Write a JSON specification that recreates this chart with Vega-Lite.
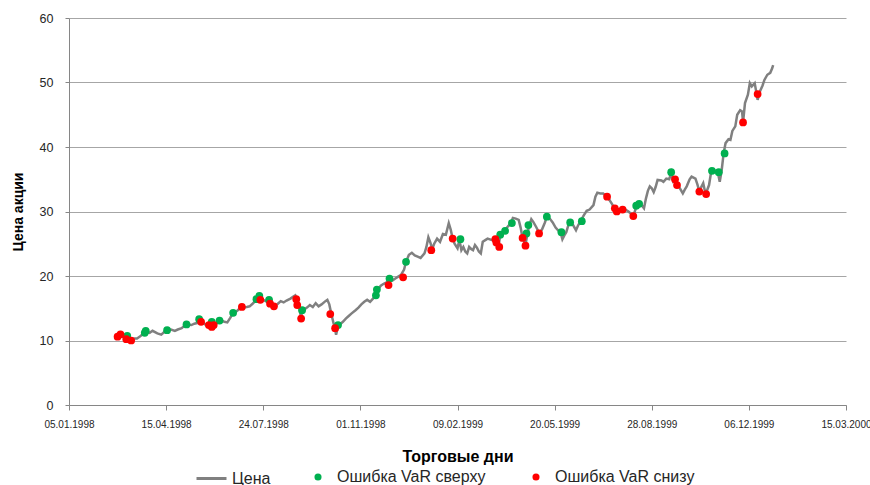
{
  "$schema": "https://vega.github.io/schema/vega-lite/v6.json",
  "width": 777,
  "height": 387,
  "autosize": {"type": "none"},
  "padding": {"left": 69, "top": 18, "right": 24, "bottom": 80},
  "background": "white",
  "config": {
    "view": {"stroke": null},
    "font": "Liberation Sans",
    "axis": {"labelFont": "Liberation Sans", "titleFont": "Liberation Sans"},
    "legend": {"labelFont": "Liberation Sans"}
  },
  "datasets": {
    "price": [
      {"date": "1998-02-22", "price": 10.6}, {"date": "1998-02-25", "price": 10.9}, {"date": "1998-03-01", "price": 10.6},
      {"date": "1998-03-04", "price": 10.3}, {"date": "1998-03-07", "price": 10.2}, {"date": "1998-03-10", "price": 10.1},
      {"date": "1998-03-13", "price": 10.3}, {"date": "1998-03-16", "price": 10.3}, {"date": "1998-03-19", "price": 10.6},
      {"date": "1998-03-22", "price": 11.0}, {"date": "1998-03-25", "price": 11.4}, {"date": "1998-03-29", "price": 11.2},
      {"date": "1998-04-01", "price": 11.5}, {"date": "1998-04-06", "price": 11.1}, {"date": "1998-04-10", "price": 10.9},
      {"date": "1998-04-13", "price": 11.3}, {"date": "1998-04-16", "price": 11.6}, {"date": "1998-04-20", "price": 11.7},
      {"date": "1998-04-24", "price": 11.5}, {"date": "1998-04-27", "price": 11.7}, {"date": "1998-05-01", "price": 11.9},
      {"date": "1998-05-04", "price": 12.3}, {"date": "1998-05-06", "price": 12.5}, {"date": "1998-05-11", "price": 12.4},
      {"date": "1998-05-14", "price": 12.6}, {"date": "1998-05-17", "price": 12.7}, {"date": "1998-05-20", "price": 13.1},
      {"date": "1998-05-23", "price": 12.8}, {"date": "1998-05-26", "price": 12.4}, {"date": "1998-05-29", "price": 12.3},
      {"date": "1998-06-01", "price": 12.3}, {"date": "1998-06-04", "price": 12.4}, {"date": "1998-06-07", "price": 12.8},
      {"date": "1998-06-11", "price": 13.1}, {"date": "1998-06-14", "price": 12.9}, {"date": "1998-06-17", "price": 12.8},
      {"date": "1998-06-20", "price": 13.5}, {"date": "1998-06-23", "price": 14.3}, {"date": "1998-06-27", "price": 14.6},
      {"date": "1998-06-30", "price": 15.0}, {"date": "1998-07-03", "price": 15.1}, {"date": "1998-07-07", "price": 15.2},
      {"date": "1998-07-10", "price": 15.3}, {"date": "1998-07-13", "price": 15.7}, {"date": "1998-07-17", "price": 16.3},
      {"date": "1998-07-20", "price": 16.8}, {"date": "1998-07-22", "price": 16.5}, {"date": "1998-07-25", "price": 16.2},
      {"date": "1998-07-28", "price": 16.0}, {"date": "1998-07-31", "price": 16.2}, {"date": "1998-08-02", "price": 15.8},
      {"date": "1998-08-05", "price": 15.3}, {"date": "1998-08-08", "price": 15.7}, {"date": "1998-08-11", "price": 16.1},
      {"date": "1998-08-14", "price": 15.9}, {"date": "1998-08-17", "price": 16.2}, {"date": "1998-08-21", "price": 16.5},
      {"date": "1998-08-24", "price": 16.8}, {"date": "1998-08-26", "price": 17.0}, {"date": "1998-08-28", "price": 16.2},
      {"date": "1998-08-30", "price": 15.3}, {"date": "1998-09-01", "price": 13.4}, {"date": "1998-09-02", "price": 14.7},
      {"date": "1998-09-04", "price": 14.8}, {"date": "1998-09-07", "price": 15.1}, {"date": "1998-09-10", "price": 15.5},
      {"date": "1998-09-13", "price": 15.2}, {"date": "1998-09-16", "price": 15.8}, {"date": "1998-09-19", "price": 15.3},
      {"date": "1998-09-22", "price": 15.6}, {"date": "1998-09-26", "price": 16.1}, {"date": "1998-09-28", "price": 16.3},
      {"date": "1998-09-30", "price": 15.6}, {"date": "1998-10-02", "price": 14.2}, {"date": "1998-10-04", "price": 12.9},
      {"date": "1998-10-06", "price": 11.7}, {"date": "1998-10-07", "price": 10.9}, {"date": "1998-10-09", "price": 12.2},
      {"date": "1998-10-11", "price": 12.5}, {"date": "1998-10-14", "price": 12.9}, {"date": "1998-10-17", "price": 13.4},
      {"date": "1998-10-20", "price": 13.8}, {"date": "1998-10-23", "price": 14.2}, {"date": "1998-10-27", "price": 14.7},
      {"date": "1998-10-30", "price": 15.1}, {"date": "1998-11-02", "price": 15.6}, {"date": "1998-11-05", "price": 16.0},
      {"date": "1998-11-08", "price": 16.3}, {"date": "1998-11-11", "price": 16.0}, {"date": "1998-11-14", "price": 16.5},
      {"date": "1998-11-17", "price": 17.0}, {"date": "1998-11-19", "price": 17.9}, {"date": "1998-11-22", "price": 18.5},
      {"date": "1998-11-25", "price": 18.8}, {"date": "1998-11-28", "price": 19.0}, {"date": "1998-12-01", "price": 19.5},
      {"date": "1998-12-04", "price": 19.3}, {"date": "1998-12-07", "price": 19.6}, {"date": "1998-12-10", "price": 19.9},
      {"date": "1998-12-13", "price": 20.2}, {"date": "1998-12-16", "price": 21.0}, {"date": "1998-12-18", "price": 22.2},
      {"date": "1998-12-21", "price": 23.3}, {"date": "1998-12-24", "price": 23.6}, {"date": "1998-12-27", "price": 23.2},
      {"date": "1998-12-30", "price": 23.0}, {"date": "1999-01-02", "price": 22.8}, {"date": "1999-01-06", "price": 23.5},
      {"date": "1999-01-08", "price": 24.5}, {"date": "1999-01-10", "price": 26.0}, {"date": "1999-01-12", "price": 25.2},
      {"date": "1999-01-14", "price": 24.2}, {"date": "1999-01-16", "price": 25.0}, {"date": "1999-01-19", "price": 25.8},
      {"date": "1999-01-22", "price": 25.3}, {"date": "1999-01-25", "price": 26.5}, {"date": "1999-01-28", "price": 26.4},
      {"date": "1999-01-31", "price": 28.2}, {"date": "1999-02-02", "price": 27.2}, {"date": "1999-02-04", "price": 25.8},
      {"date": "1999-02-06", "price": 25.0}, {"date": "1999-02-09", "price": 24.3}, {"date": "1999-02-11", "price": 25.6},
      {"date": "1999-02-13", "price": 24.0}, {"date": "1999-02-15", "price": 24.5}, {"date": "1999-02-17", "price": 23.8},
      {"date": "1999-02-19", "price": 23.5}, {"date": "1999-02-21", "price": 24.5}, {"date": "1999-02-23", "price": 24.2},
      {"date": "1999-02-25", "price": 24.0}, {"date": "1999-02-27", "price": 24.8}, {"date": "1999-03-01", "price": 24.4},
      {"date": "1999-03-03", "price": 23.8}, {"date": "1999-03-05", "price": 23.5}, {"date": "1999-03-07", "price": 25.3},
      {"date": "1999-03-10", "price": 25.6}, {"date": "1999-03-12", "price": 25.8}, {"date": "1999-03-16", "price": 25.6},
      {"date": "1999-03-19", "price": 25.8}, {"date": "1999-03-21", "price": 25.3}, {"date": "1999-03-23", "price": 24.6},
      {"date": "1999-03-25", "price": 26.2}, {"date": "1999-03-27", "price": 26.6}, {"date": "1999-03-30", "price": 27.1},
      {"date": "1999-04-02", "price": 27.7}, {"date": "1999-04-05", "price": 28.2}, {"date": "1999-04-07", "price": 29.0},
      {"date": "1999-04-10", "price": 28.9}, {"date": "1999-04-13", "price": 28.7}, {"date": "1999-04-15", "price": 27.5},
      {"date": "1999-04-17", "price": 25.9}, {"date": "1999-04-20", "price": 24.8}, {"date": "1999-04-22", "price": 26.6},
      {"date": "1999-04-24", "price": 27.9}, {"date": "1999-04-26", "price": 28.8}, {"date": "1999-04-28", "price": 28.4},
      {"date": "1999-05-01", "price": 27.6}, {"date": "1999-05-04", "price": 26.7}, {"date": "1999-05-07", "price": 27.2},
      {"date": "1999-05-10", "price": 28.3}, {"date": "1999-05-12", "price": 29.2}, {"date": "1999-05-15", "price": 28.9},
      {"date": "1999-05-18", "price": 28.3}, {"date": "1999-05-21", "price": 27.5}, {"date": "1999-05-24", "price": 27.0},
      {"date": "1999-05-26", "price": 26.8}, {"date": "1999-05-28", "price": 25.7}, {"date": "1999-05-30", "price": 26.3},
      {"date": "1999-06-01", "price": 26.8}, {"date": "1999-06-03", "price": 27.8}, {"date": "1999-06-05", "price": 28.3},
      {"date": "1999-06-08", "price": 27.9}, {"date": "1999-06-11", "price": 27.1}, {"date": "1999-06-13", "price": 27.8},
      {"date": "1999-06-16", "price": 28.6}, {"date": "1999-06-19", "price": 29.4}, {"date": "1999-06-22", "price": 30.1},
      {"date": "1999-06-25", "price": 30.3}, {"date": "1999-06-29", "price": 31.0}, {"date": "1999-07-01", "price": 32.3},
      {"date": "1999-07-03", "price": 32.9}, {"date": "1999-07-06", "price": 32.8}, {"date": "1999-07-09", "price": 32.8},
      {"date": "1999-07-12", "price": 32.4}, {"date": "1999-07-15", "price": 31.9}, {"date": "1999-07-18", "price": 31.2},
      {"date": "1999-07-20", "price": 30.6}, {"date": "1999-07-22", "price": 30.0}, {"date": "1999-07-24", "price": 30.4},
      {"date": "1999-07-27", "price": 30.2}, {"date": "1999-07-29", "price": 30.4}, {"date": "1999-08-01", "price": 30.3},
      {"date": "1999-08-04", "price": 30.0}, {"date": "1999-08-07", "price": 29.6}, {"date": "1999-08-09", "price": 29.3},
      {"date": "1999-08-11", "price": 30.2}, {"date": "1999-08-13", "price": 31.0}, {"date": "1999-08-16", "price": 31.2},
      {"date": "1999-08-18", "price": 30.9}, {"date": "1999-08-20", "price": 30.5}, {"date": "1999-08-22", "price": 32.0},
      {"date": "1999-08-24", "price": 33.2}, {"date": "1999-08-26", "price": 33.9}, {"date": "1999-08-28", "price": 33.6},
      {"date": "1999-08-30", "price": 33.0}, {"date": "1999-09-01", "price": 33.8}, {"date": "1999-09-03", "price": 34.9},
      {"date": "1999-09-07", "price": 34.8}, {"date": "1999-09-09", "price": 34.6}, {"date": "1999-09-12", "price": 35.1},
      {"date": "1999-09-15", "price": 35.0}, {"date": "1999-09-17", "price": 36.0}, {"date": "1999-09-19", "price": 34.7},
      {"date": "1999-09-21", "price": 35.0}, {"date": "1999-09-24", "price": 34.1}, {"date": "1999-09-26", "price": 33.6},
      {"date": "1999-09-29", "price": 32.8}, {"date": "1999-10-01", "price": 33.4}, {"date": "1999-10-03", "price": 33.9},
      {"date": "1999-10-06", "price": 35.0}, {"date": "1999-10-08", "price": 35.4}, {"date": "1999-10-12", "price": 35.1},
      {"date": "1999-10-14", "price": 34.2}, {"date": "1999-10-16", "price": 33.1}, {"date": "1999-10-18", "price": 33.8},
      {"date": "1999-10-20", "price": 34.4}, {"date": "1999-10-22", "price": 33.0}, {"date": "1999-10-24", "price": 33.3},
      {"date": "1999-10-26", "price": 34.1}, {"date": "1999-10-28", "price": 36.0}, {"date": "1999-10-30", "price": 36.4},
      {"date": "1999-11-02", "price": 36.3}, {"date": "1999-11-04", "price": 36.1}, {"date": "1999-11-06", "price": 34.6},
      {"date": "1999-11-08", "price": 36.4}, {"date": "1999-11-10", "price": 39.0}, {"date": "1999-11-12", "price": 40.6},
      {"date": "1999-11-15", "price": 41.2}, {"date": "1999-11-17", "price": 41.1}, {"date": "1999-11-19", "price": 42.5},
      {"date": "1999-11-22", "price": 43.2}, {"date": "1999-11-24", "price": 45.0}, {"date": "1999-11-27", "price": 45.7},
      {"date": "1999-11-29", "price": 45.5}, {"date": "1999-11-30", "price": 43.8}, {"date": "1999-12-02", "price": 46.8},
      {"date": "1999-12-05", "price": 48.1}, {"date": "1999-12-07", "price": 49.9}, {"date": "1999-12-09", "price": 49.4},
      {"date": "1999-12-12", "price": 49.9}, {"date": "1999-12-14", "price": 48.2}, {"date": "1999-12-15", "price": 47.3},
      {"date": "1999-12-17", "price": 48.5}, {"date": "1999-12-20", "price": 49.5}, {"date": "1999-12-22", "price": 50.4},
      {"date": "1999-12-25", "price": 51.2}, {"date": "1999-12-28", "price": 51.5}, {"date": "1999-12-30", "price": 52.2},
      {"date": "1999-12-31", "price": 52.7}
    ],
    "errors": [
      {"date": "1998-03-06", "price": 10.7, "type": "Ошибка VaR сверху"},
      {"date": "1998-03-24", "price": 11.2, "type": "Ошибка VaR сверху"},
      {"date": "1998-03-25", "price": 11.5, "type": "Ошибка VaR сверху"},
      {"date": "1998-04-16", "price": 11.6, "type": "Ошибка VaR сверху"},
      {"date": "1998-05-06", "price": 12.5, "type": "Ошибка VaR сверху"},
      {"date": "1998-05-19", "price": 13.3, "type": "Ошибка VaR сверху"},
      {"date": "1998-06-01", "price": 12.9, "type": "Ошибка VaR сверху"},
      {"date": "1998-06-09", "price": 13.1, "type": "Ошибка VaR сверху"},
      {"date": "1998-06-23", "price": 14.3, "type": "Ошибка VaR сверху"},
      {"date": "1998-07-17", "price": 16.4, "type": "Ошибка VaR сверху"},
      {"date": "1998-07-20", "price": 16.9, "type": "Ошибка VaR сверху"},
      {"date": "1998-07-30", "price": 16.3, "type": "Ошибка VaR сверху"},
      {"date": "1998-09-02", "price": 14.7, "type": "Ошибка VaR сверху"},
      {"date": "1998-10-09", "price": 12.4, "type": "Ошибка VaR сверху"},
      {"date": "1998-11-17", "price": 17.0, "type": "Ошибка VaR сверху"},
      {"date": "1998-11-18", "price": 17.9, "type": "Ошибка VaR сверху"},
      {"date": "1998-12-01", "price": 19.6, "type": "Ошибка VaR сверху"},
      {"date": "1998-12-18", "price": 22.2, "type": "Ошибка VaR сверху"},
      {"date": "1999-02-12", "price": 25.7, "type": "Ошибка VaR сверху"},
      {"date": "1999-03-25", "price": 26.4, "type": "Ошибка VaR сверху"},
      {"date": "1999-03-30", "price": 27.0, "type": "Ошибка VaR сверху"},
      {"date": "1999-04-06", "price": 28.2, "type": "Ошибка VaR сверху"},
      {"date": "1999-04-21", "price": 26.6, "type": "Ошибка VaR сверху"},
      {"date": "1999-04-23", "price": 27.9, "type": "Ошибка VaR сверху"},
      {"date": "1999-05-12", "price": 29.2, "type": "Ошибка VaR сверху"},
      {"date": "1999-05-27", "price": 26.8, "type": "Ошибка VaR сверху"},
      {"date": "1999-06-05", "price": 28.3, "type": "Ошибка VaR сверху"},
      {"date": "1999-06-17", "price": 28.5, "type": "Ошибка VaR сверху"},
      {"date": "1999-08-12", "price": 30.9, "type": "Ошибка VaR сверху"},
      {"date": "1999-08-15", "price": 31.2, "type": "Ошибка VaR сверху"},
      {"date": "1999-09-17", "price": 36.1, "type": "Ошибка VaR сверху"},
      {"date": "1999-10-29", "price": 36.3, "type": "Ошибка VaR сверху"},
      {"date": "1999-11-05", "price": 36.1, "type": "Ошибка VaR сверху"},
      {"date": "1999-11-11", "price": 39.0, "type": "Ошибка VaR сверху"},
      {"date": "1998-02-24", "price": 10.6, "type": "Ошибка VaR снизу"},
      {"date": "1998-02-27", "price": 10.95, "type": "Ошибка VaR снизу"},
      {"date": "1998-03-05", "price": 10.2, "type": "Ошибка VaR снизу"},
      {"date": "1998-03-10", "price": 10.0, "type": "Ошибка VaR снизу"},
      {"date": "1998-05-21", "price": 12.9, "type": "Ошибка VaR снизу"},
      {"date": "1998-05-29", "price": 12.4, "type": "Ошибка VaR снизу"},
      {"date": "1998-06-01", "price": 12.1, "type": "Ошибка VaR снизу"},
      {"date": "1998-06-03", "price": 12.4, "type": "Ошибка VaR снизу"},
      {"date": "1998-07-02", "price": 15.2, "type": "Ошибка VaR снизу"},
      {"date": "1998-07-21", "price": 16.3, "type": "Ошибка VaR снизу"},
      {"date": "1998-07-31", "price": 15.7, "type": "Ошибка VaR снизу"},
      {"date": "1998-08-04", "price": 15.3, "type": "Ошибка VaR снизу"},
      {"date": "1998-08-27", "price": 16.4, "type": "Ошибка VaR снизу"},
      {"date": "1998-08-28", "price": 15.5, "type": "Ошибка VaR снизу"},
      {"date": "1998-09-01", "price": 13.4, "type": "Ошибка VaR снизу"},
      {"date": "1998-10-01", "price": 14.1, "type": "Ошибка VaR снизу"},
      {"date": "1998-10-06", "price": 11.9, "type": "Ошибка VaR снизу"},
      {"date": "1998-11-30", "price": 18.6, "type": "Ошибка VaR снизу"},
      {"date": "1998-12-15", "price": 19.8, "type": "Ошибка VaR снизу"},
      {"date": "1999-01-13", "price": 24.0, "type": "Ошибка VaR снизу"},
      {"date": "1999-02-04", "price": 25.8, "type": "Ошибка VaR снизу"},
      {"date": "1999-03-20", "price": 25.7, "type": "Ошибка VaR снизу"},
      {"date": "1999-03-21", "price": 25.2, "type": "Ошибка VaR снизу"},
      {"date": "1999-03-24", "price": 24.5, "type": "Ошибка VaR снизу"},
      {"date": "1999-04-17", "price": 25.9, "type": "Ошибка VaR снизу"},
      {"date": "1999-04-20", "price": 24.7, "type": "Ошибка VaR снизу"},
      {"date": "1999-05-04", "price": 26.6, "type": "Ошибка VaR снизу"},
      {"date": "1999-07-13", "price": 32.3, "type": "Ошибка VaR снизу"},
      {"date": "1999-07-21", "price": 30.5, "type": "Ошибка VaR снизу"},
      {"date": "1999-07-23", "price": 30.0, "type": "Ошибка VaR снизу"},
      {"date": "1999-07-29", "price": 30.3, "type": "Ошибка VaR снизу"},
      {"date": "1999-08-09", "price": 29.3, "type": "Ошибка VaR снизу"},
      {"date": "1999-09-21", "price": 35.0, "type": "Ошибка VaR снизу"},
      {"date": "1999-09-23", "price": 34.1, "type": "Ошибка VaR снизу"},
      {"date": "1999-10-16", "price": 33.1, "type": "Ошибка VaR снизу"},
      {"date": "1999-10-23", "price": 32.7, "type": "Ошибка VaR снизу"},
      {"date": "1999-11-30", "price": 43.8, "type": "Ошибка VaR снизу"},
      {"date": "1999-12-15", "price": 48.2, "type": "Ошибка VaR снизу"}
    ]
  },
  "encoding": {
    "x": {
      "field": "date",
      "type": "temporal",
      "scale": {"domain": [{"year": 1998, "month": 1, "date": 5}, {"year": 2000, "month": 3, "date": 15}]},
      "axis": {
        "values": [
          {"year": 1998, "month": 1, "date": 5}, {"year": 1998, "month": 4, "date": 15},
          {"year": 1998, "month": 7, "date": 24}, {"year": 1998, "month": 11, "date": 1},
          {"year": 1999, "month": 2, "date": 9}, {"year": 1999, "month": 5, "date": 20},
          {"year": 1999, "month": 8, "date": 28}, {"year": 1999, "month": 12, "date": 6},
          {"year": 2000, "month": 3, "date": 15}
        ],
        "format": "%d.%m.%Y",
        "title": "Торговые дни",
        "grid": false,
        "domainColor": "#868686",
        "tickColor": "#868686",
        "tickSize": 5,
        "labelFontSize": 10,
        "labelColor": "#262626",
        "labelPadding": 9,
        "labelFlush": false,
        "labelOverlap": false,
        "labelBound": false,
        "titleFontSize": 16,
        "titleFontWeight": "bold",
        "titleColor": "#000000",
        "titlePadding": 19
      }
    },
    "y": {
      "field": "price",
      "type": "quantitative",
      "scale": {"domain": [0, 60], "nice": false},
      "axis": {
        "values": [0, 10, 20, 30, 40, 50, 60],
        "title": "Цена акции",
        "grid": true,
        "gridColor": "#a6a6a6",
        "gridWidth": 1,
        "domainColor": "#868686",
        "tickColor": "#868686",
        "tickSize": 4,
        "labelFontSize": 12.5,
        "labelColor": "#262626",
        "labelPadding": 12,
        "titleFontSize": 14,
        "titleFontWeight": "bold",
        "titleColor": "#000000",
        "titlePadding": 14
      }
    }
  },
  "layer": [
    {
      "data": {"name": "price"},
      "mark": {"type": "line", "strokeWidth": 2.5, "interpolate": "linear"},
      "encoding": {
        "stroke": {
          "datum": "Цена",
          "type": "nominal",
          "scale": {"domain": ["Цена"], "range": ["#808080"]},
          "legend": {
            "orient": "none",
            "legendX": 126,
            "legendY": 444,
            "title": null,
            "symbolType": "stroke",
            "symbolSize": 900,
            "symbolStrokeWidth": 3,
            "labelFontSize": 16,
            "labelColor": "#262626",
            "labelOffset": 4,
            "padding": 0
          }
        }
      }
    },
    {
      "data": {"name": "errors"},
      "mark": {"type": "point", "filled": true, "size": 60, "opacity": 1},
      "encoding": {
        "fill": {
          "field": "type",
          "type": "nominal",
          "scale": {"domain": ["Ошибка VaR сверху", "Ошибка VaR снизу"], "range": ["#00B050", "#FF0000"]},
          "legend": {
            "orient": "none",
            "direction": "horizontal",
            "legendX": 241,
            "legendY": 451,
            "title": null,
            "symbolType": "circle",
            "symbolSize": 50,
            "symbolOpacity": 1,
            "labelFontSize": 16,
            "labelColor": "#262626",
            "labelOffset": 11,
            "columnPadding": 42,
            "padding": 0
          }
        }
      }
    }
  ]
}
